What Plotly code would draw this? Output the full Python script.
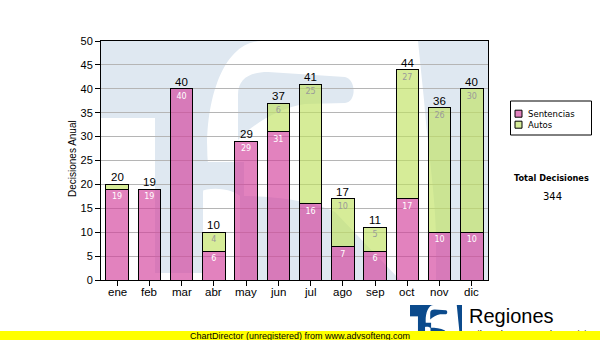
import plotly.graph_objects as go

# ---- data -------------------------------------------------------------
meses = ["ene", "feb", "mar", "abr", "may", "jun", "jul", "ago", "sep", "oct", "nov", "dic"]
sentencias = [19, 19, 40, 6, 29, 31, 16, 7, 6, 17, 10, 10]
autos = [1, 0, 0, 4, 0, 6, 25, 10, 5, 27, 26, 30]
y_ticks = list(range(0, 51, 5))

# ---- styling ----------------------------------------------------------
PINK = "rgba(211,63,155,0.65)"
GREEN = "rgba(192,226,97,0.65)"
BG_BLUE = "#dfe8f1"
LOGO_BLUE = "#0b4a8c"
ARIAL = "Liberation Sans, Arial, sans-serif"
VERDANA = "DejaVu Sans, Verdana, sans-serif"

W, H = 600, 340
L, R, T, B = 101, 488, 41, 280  # plot area edges (px)


def fx(px):
    return (px - L) / (R - L)


def fy(py):
    return (B - py) / (B - T)


def svg_path(spec, tx=fx, ty=fy):
    """Turn a pixel-space path spec into a paper-space SVG path."""
    out, nums = [], []
    for tok in spec.split():
        if tok.isalpha():
            out.append(tok)
        else:
            nums.append(float(tok))
            if len(nums) == 2:
                out.append(f"{tx(nums[0]):.5f},{ty(nums[1]):.5f}")
                nums = []
    return " ".join(out)


# "TS" emblem drawn as a faint backdrop inside the plot and, scaled, as the logo
EMBLEM_WHITE = [
    "M 101 118 L 155 118 L 155 273 L 101 273 Z",
    "M 101 273 L 203 273 L 203 280 L 101 280 Z",
    "M 208 165 C 203 110 220 41 262 41 L 418 41 L 424 100 C 428 150 436 200 436 240 "
    "L 436 280 L 203 280 L 203 200 C 203 180 205 172 208 165 Z",
]
EMBLEM_HOLES = [
    "M 238 140 L 238 95 C 238 78 250 72 268 72 L 345 77 C 356 79 357 102 345 103 "
    "L 305 104 C 280 108 255 122 238 140 Z",
    "M 200 162 L 244 162 L 244 200 C 236 188 210 186 200 192 Z",
    "M 240 196 C 270 196 310 200 335 212 L 400 280 L 240 280 Z",
]

shapes = []
for spec in EMBLEM_WHITE:
    shapes.append(dict(type="path", xref="paper", yref="paper", layer="below",
                       path=svg_path(spec), fillcolor="white", line=dict(width=0)))
for spec in EMBLEM_HOLES:
    shapes.append(dict(type="path", xref="paper", yref="paper", layer="below",
                       path=svg_path(spec), fillcolor=BG_BLUE, line=dict(width=0)))

# logo (same emblem, scaled into the bottom-right corner)
S = 50 / 339.0


def lx(px):
    return fx(410 + (px - 101) * S)


def ly(py):
    return fy(305 + (py - 41) * S)


shapes.append(dict(type="rect", xref="paper", yref="paper", layer="above",
                   x0=fx(410), x1=fx(462), y0=fy(305), y1=fy(340),
                   fillcolor=LOGO_BLUE, line=dict(width=0)))
for spec in EMBLEM_WHITE:
    shapes.append(dict(type="path", xref="paper", yref="paper", layer="above",
                       path=svg_path(spec, lx, ly), fillcolor="white", line=dict(width=0)))
for spec in EMBLEM_HOLES:
    shapes.append(dict(type="path", xref="paper", yref="paper", layer="above",
                       path=svg_path(spec, lx, ly), fillcolor=LOGO_BLUE, line=dict(width=0)))

# legend box
shapes.append(dict(type="rect", xref="paper", yref="paper", layer="above",
                   x0=fx(510.5), x1=fx(591.5), y0=fy(101), y1=fy(135),
                   fillcolor="white", line=dict(color="black", width=1)))
for yc, col in [(113.7, PINK), (124.7, GREEN)]:
    shapes.append(dict(type="rect", xref="paper", yref="paper", layer="above",
                       x0=fx(515), x1=fx(522), y0=fy(yc - 3.5), y1=fy(yc + 3.5),
                       fillcolor=col, line=dict(color="black", width=1)))

# ---- bars -------------------------------------------------------------
x = list(range(len(meses)))


def seg_labels(vals):
    return [str(v) if v >= 2 else "" for v in vals]


fig = go.Figure()
fig.add_bar(x=x, y=sentencias, name="Sentencias", width=0.7,
            marker=dict(color=PINK, line=dict(color="black", width=1)),
            text=seg_labels(sentencias), textposition="inside", insidetextanchor="end",
            textangle=0, constraintext="none",
            insidetextfont=dict(family=VERDANA, size=8, color="white"))
fig.add_bar(x=x, y=autos, name="Autos", width=0.7,
            marker=dict(color=GREEN, line=dict(color="black", width=1)),
            text=seg_labels(autos), textposition="inside", insidetextanchor="end",
            textangle=0, constraintext="none",
            insidetextfont=dict(family=VERDANA, size=8, color="#9a9a9a"))

annotations = []
for i, (s, a) in enumerate(zip(sentencias, autos)):
    annotations.append(dict(x=i, y=s + a, xref="x", yref="y", text=str(s + a),
                            showarrow=False, yanchor="bottom", yshift=-1,
                            font=dict(family=ARIAL, size=11.5, color="black")))

# month names under the category ticks
for i, m in enumerate(meses):
    annotations.append(dict(x=i, y=0, xref="x", yref="y", text=m,
                            showarrow=False, yanchor="top", yshift=-4,
                            font=dict(family=ARIAL, size=11.5, color="black")))

total = sum(sentencias) + sum(autos)

annotations += [
    dict(x=fx(72.5), y=fy(158.5), xref="paper", yref="paper", text="Decisiones Anual",
         textangle=-90, showarrow=False, xanchor="center", yanchor="middle",
         font=dict(family=ARIAL, size=10, color="black")),
    dict(x=fx(526), y=fy(113.7), xref="paper", yref="paper", text="Sentencias",
         showarrow=False, xanchor="left", yanchor="middle",
         font=dict(family=VERDANA, size=8.5, color="black")),
    dict(x=fx(526), y=fy(124.7), xref="paper", yref="paper", text="Autos",
         showarrow=False, xanchor="left", yanchor="middle",
         font=dict(family=VERDANA, size=8.5, color="black")),
    dict(x=fx(551.5), y=fy(177.5), xref="paper", yref="paper", text="Total Decisiones",
         showarrow=False, xanchor="center", yanchor="middle",
         font=dict(family=VERDANA, size=8.2, color="black", weight="bold")),
    dict(x=fx(552.5), y=fy(196.5), xref="paper", yref="paper", text=str(total),
         showarrow=False, xanchor="center", yanchor="middle",
         font=dict(family=VERDANA, size=10, color="black")),
    dict(x=fx(467), y=fy(316), xref="paper", yref="paper", text="Regiones",
         showarrow=False, xanchor="left", yanchor="middle",
         font=dict(family=ARIAL, size=20, color="black")),
    dict(x=fx(467), y=fy(326), xref="paper", yref="paper", text="Tribunal Supremo de Justicia",
         showarrow=False, xanchor="left", yanchor="top",
         font=dict(family=ARIAL, size=9.5, color="black")),
    dict(x=fx(300), y=fy(340), xref="paper", yref="paper",
         text="ChartDirector (unregistered) from www.advsofteng.com",
         showarrow=False, xanchor="center", yanchor="bottom", width=600, height=9,
         bgcolor="#ffff00", borderpad=0, borderwidth=0,
         font=dict(family=ARIAL, size=9, color="black")),
]

fig.update_layout(
    width=W, height=H, barmode="stack", showlegend=False,
    margin=dict(l=L, r=W - R, t=T, b=H - B, pad=0),
    paper_bgcolor="white", plot_bgcolor=BG_BLUE,
    shapes=shapes, annotations=annotations,
    xaxis=dict(range=[-0.5, 11.5], tickmode="array", tickvals=x, showticklabels=False,
               ticks="outside", ticklen=5, tickcolor="black", showgrid=False,
               showline=True, linecolor="black", linewidth=1, mirror=True, zeroline=False),
    yaxis=dict(range=[0, 50], tickmode="array", tickvals=y_ticks,
               ticks="outside", ticklen=5, tickcolor="black", showgrid=True,
               gridcolor="#b5b5b5", gridwidth=1, showline=True, linecolor="black",
               linewidth=1, mirror=True, zeroline=False,
               tickfont=dict(family=ARIAL, size=11, color="black")),
)

fig.write_html("out.html")
